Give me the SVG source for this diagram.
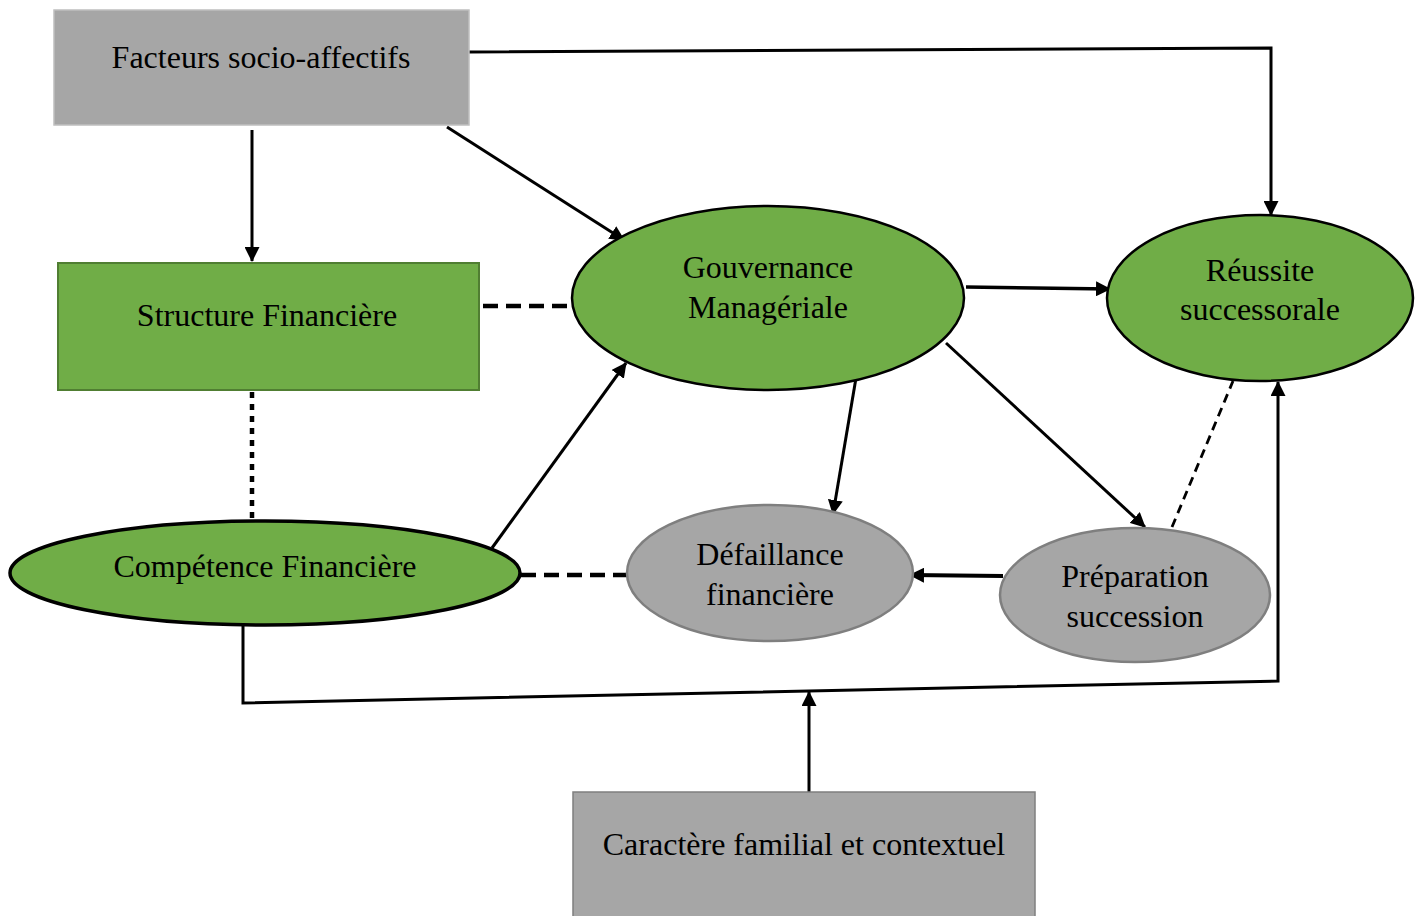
<svg xmlns="http://www.w3.org/2000/svg" width="1421" height="916" viewBox="0 0 1421 916">
  <style>
    .lbl { font-family: "Liberation Serif", "Times New Roman", serif; font-size: 32px; fill: #000; text-anchor: middle; }
    .grey-box { fill: #a6a6a6; stroke: #bfbfbf; stroke-width: 1.5; }
    .green-box { fill: #70ad47; stroke: #507e32; stroke-width: 2; }
    .green-ell { fill: #70ad47; stroke: #000; stroke-width: 2.5; }
    .grey-ell { fill: #a6a6a6; stroke: #7f7f7f; stroke-width: 2.5; }
    .link { fill: none; stroke: #000; stroke-width: 3; }
    .arrow { marker-end: url(#head); }
    .dash-thick { fill: none; stroke: #000; stroke-width: 4.5; stroke-dasharray: 15 8; }
    .dot { fill: none; stroke: #000; stroke-width: 4.5; stroke-dasharray: 6 6; }
    .dash-thin { fill: none; stroke: #000; stroke-width: 2.8; stroke-dasharray: 9 6; }
  </style>
  <defs>
    <marker id="head" viewBox="0 0 15 15" refX="14" refY="7.5" markerWidth="15" markerHeight="15" markerUnits="userSpaceOnUse" orient="auto">
      <path d="M0,0 L15,7.5 L0,15 Z" fill="#000"/>
    </marker>
  </defs>

  <rect width="1421" height="916" fill="#fff"/>

  <!-- connectors -->
  <g id="connectors">
    <polyline class="link arrow" points="469,52 1271,48 1271,215"/>
    <line class="link arrow" x1="252" y1="130" x2="252" y2="261"/>
    <line class="link arrow" x1="447" y1="127" x2="624" y2="240"/>
    <line class="dash-thick" x1="483" y1="306" x2="572" y2="306"/>
    <line class="dot" x1="252" y1="392" x2="252" y2="520"/>
    <line class="link arrow" x1="492" y1="548" x2="626" y2="363"/>
    <line class="dash-thick" x1="521" y1="575" x2="627" y2="575"/>
    <line class="link arrow" x1="966" y1="287" x2="1110" y2="289" style="stroke-width:3.5"/>
    <line class="link arrow" x1="856" y1="378" x2="833" y2="514"/>
    <line class="link arrow" x1="946" y1="343" x2="1145" y2="527"/>
    <line class="dash-thin" x1="1172" y1="527" x2="1233" y2="381"/>
    <line class="link arrow" x1="1003" y1="576" x2="910" y2="575" style="stroke-width:4"/>
    <polyline class="link arrow" points="243,626 243,703 1278,681 1278,382"/>
    <line class="link arrow" x1="809" y1="792" x2="809" y2="692"/>
  </g>

  <!-- nodes -->
  <g id="facteurs">
    <rect class="grey-box" x="54" y="10" width="415" height="115"/>
    <text class="lbl" x="261" y="68">Facteurs socio-affectifs</text>
  </g>

  <g id="structure">
    <rect class="green-box" x="58" y="263" width="421" height="127"/>
    <text class="lbl" x="267" y="326">Structure Financière</text>
  </g>

  <g id="gouvernance">
    <ellipse class="green-ell" cx="768" cy="298" rx="196" ry="92"/>
    <text class="lbl" x="768" y="278">Gouvernance</text>
    <text class="lbl" x="768" y="318">Managériale</text>
  </g>

  <g id="reussite">
    <ellipse class="green-ell" cx="1260" cy="298" rx="153" ry="83"/>
    <text class="lbl" x="1260" y="281">Réussite</text>
    <text class="lbl" x="1260" y="320">successorale</text>
  </g>

  <g id="competence">
    <ellipse class="green-ell" cx="265" cy="573" rx="255" ry="52" style="stroke-width:3.5"/>
    <text class="lbl" x="265" y="577">Compétence Financière</text>
  </g>

  <g id="defaillance">
    <ellipse class="grey-ell" cx="770" cy="573" rx="143" ry="68"/>
    <text class="lbl" x="770" y="565">Défaillance</text>
    <text class="lbl" x="770" y="605">financière</text>
  </g>

  <g id="preparation">
    <ellipse class="grey-ell" cx="1135" cy="595" rx="135" ry="67"/>
    <text class="lbl" x="1135" y="587">Préparation</text>
    <text class="lbl" x="1135" y="627">succession</text>
  </g>

  <g id="caractere">
    <rect class="grey-box" x="573" y="792" width="462" height="130" style="stroke:#7f7f7f"/>
    <text class="lbl" x="804" y="855">Caractère familial et contextuel</text>
  </g>
</svg>
